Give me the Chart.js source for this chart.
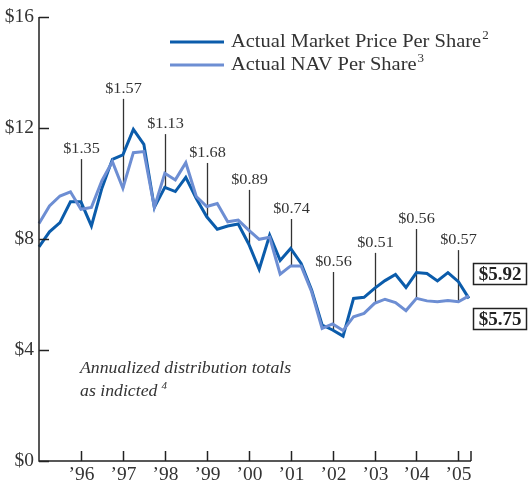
<!DOCTYPE html>
<html>
<head>
<meta charset="utf-8">
<script src="https://cdn.jsdelivr.net/npm/chart.js@4/dist/chart.umd.min.js"></script>
<style>
  html, body { margin: 0; padding: 0; background: #fff; }
  #wrap { width: 528px; height: 488px; }
</style>
</head>
<body>
<div id="wrap"><canvas id="chart" width="528" height="488"></canvas></div>
<script>
// --- DATA ---
// quarterly points, 1995 Q1 .. 2005 Q2
const quarters = [];
for (let i = 0; i < 42; i++) quarters.push(1995 + i * 0.25);

const marketPrice = [
  7.72, 8.26, 8.59, 9.34, 9.34, 8.47, 9.83, 10.87, 11.03, 11.95, 11.41, 9.14,
  9.86, 9.71, 10.22, 9.46, 8.80, 8.35, 8.47, 8.54, 7.82, 6.91, 8.14, 7.23,
  7.66, 7.12, 6.16, 4.90, 4.72, 4.50, 5.86, 5.90, 6.22, 6.50, 6.72, 6.25,
  6.79, 6.76, 6.49, 6.79, 6.46, 5.86
];
const navPrice = [
  8.56, 9.19, 9.55, 9.70, 9.07, 9.14, 10.10, 10.79, 9.83, 11.11, 11.15, 9.14,
  10.37, 10.13, 10.75, 9.53, 9.17, 9.28, 8.62, 8.68, 8.32, 7.99, 8.06, 6.73,
  7.03, 7.03, 6.10, 4.78, 4.94, 4.70, 5.20, 5.32, 5.68, 5.83, 5.71, 5.42,
  5.86, 5.77, 5.74, 5.78, 5.74, 5.95
];

const yearTicks = [1996, 1997, 1998, 1999, 2000, 2001, 2002, 2003, 2004, 2005];
const yearLabels = ['\u201996', '\u201997', '\u201998', '\u201999', '\u201900',
                    '\u201901', '\u201902', '\u201903', '\u201904', '\u201905'];
const yTicks = [0, 4, 8, 12, 16];
const yLabels = ['$0', '$4', '$8', '$12', '$16'];

// distribution annotations: label + top of the stick (in $)
const distLabels = ['$1.35', '$1.57', '$1.13', '$1.68', '$0.89', '$0.74', '$0.56', '$0.51', '$0.56', '$0.57'];
const distTops = [10.88, 13.05, 11.78, 10.74, 9.77, 8.72, 6.81, 7.50, 8.36, 7.60];

const seriesNames = ['Actual Market Price Per Share', 'Actual NAV Per Share'];
const seriesSup = ['2', '3'];
const endValues = ['$5.92', '$5.75'];

const DARK = '#0b5cab';
const LIGHT = '#6d8ed3';
const SERIF = '"Liberation Serif", "DejaVu Serif", serif';

// text drawn a little wider, the original face is a Century-like serif
function wideText(ctx, text, x, y, sx) {
  ctx.save();
  ctx.translate(x, y);
  ctx.scale(sx, 1);
  ctx.fillText(text, 0, 0);
  ctx.restore();
  return ctx.measureText(text).width * sx;
}

// --- DRAWING EXTRAS ---
const decorPlugin = {
  id: 'decor',
  beforeDatasetsDraw(chart) {
    const ctx = chart.ctx;
    const xs = chart.scales.x, ys = chart.scales.y;
    ctx.save();
    // distribution sticks + labels
    ctx.strokeStyle = '#333';
    ctx.lineWidth = 1.3;
    ctx.fillStyle = '#333';
    ctx.font = '15.5px ' + SERIF;
    ctx.textAlign = 'center';
    ctx.textBaseline = 'alphabetic';
    yearTicks.forEach((yr, i) => {
      const idx = quarters.indexOf(yr);
      const low = Math.min(marketPrice[idx], navPrice[idx]);
      const x = Math.round(xs.getPixelForValue(yr)) + 0.5;
      const top = ys.getPixelForValue(distTops[i]);
      ctx.beginPath();
      ctx.moveTo(x, top);
      ctx.lineTo(x, ys.getPixelForValue(low));
      ctx.stroke();
      wideText(ctx, distLabels[i], x, top - 6, 1.05);
    });
    ctx.restore();
  },
  afterDraw(chart) {
    const ctx = chart.ctx;
    const xs = chart.scales.x, ys = chart.scales.y;
    const area = chart.chartArea;
    ctx.save();
    ctx.strokeStyle = '#222';
    ctx.fillStyle = '#333';
    ctx.lineWidth = 1.5;

    // axes
    ctx.beginPath();
    ctx.moveTo(area.left, area.top);
    ctx.lineTo(area.left, area.bottom);
    ctx.lineTo(area.right, area.bottom);
    ctx.stroke();

    // y ticks + labels
    ctx.font = '18px ' + SERIF;
    ctx.textAlign = 'right';
    ctx.textBaseline = 'middle';
    yTicks.forEach((v, i) => {
      const y = Math.round(ys.getPixelForValue(v)) + 0.5;
      ctx.beginPath();
      ctx.moveTo(area.left, y);
      ctx.lineTo(area.left + 10, y);
      ctx.stroke();
      wideText(ctx, yLabels[i], area.left - 5, y, 1.08);
    });

    // x ticks + labels
    ctx.textAlign = 'center';
    ctx.textBaseline = 'top';
    yearTicks.forEach((yr, i) => {
      const x = Math.round(xs.getPixelForValue(yr)) + 0.5;
      ctx.beginPath();
      ctx.moveTo(x, area.bottom);
      ctx.lineTo(x, area.bottom - 10);
      ctx.stroke();
      wideText(ctx, yearLabels[i], x, area.bottom + 5, 1.08);
    });
    ctx.beginPath();
    ctx.moveTo(area.right, area.bottom);
    ctx.lineTo(area.right, area.bottom - 10);
    ctx.stroke();

    // legend
    const legendRows = [42, 65];
    [DARK, LIGHT].forEach((c, i) => {
      const y = legendRows[i];
      ctx.strokeStyle = c;
      ctx.lineWidth = 3;
      ctx.beginPath();
      ctx.moveTo(170, y);
      ctx.lineTo(224, y);
      ctx.stroke();
      ctx.fillStyle = '#333';
      ctx.font = '19.5px ' + SERIF;
      ctx.textAlign = 'left';
      ctx.textBaseline = 'middle';
      const w = wideText(ctx, seriesNames[i], 231, y, 1.05);
      ctx.font = '13px ' + SERIF;
      ctx.fillText(seriesSup[i], 232 + w, y - 6);
    });

    // note
    ctx.fillStyle = '#333';
    ctx.font = 'italic 16px ' + SERIF;
    ctx.textAlign = 'left';
    ctx.textBaseline = 'alphabetic';
    wideText(ctx, 'Annualized distribution totals', 80, 373, 1.11);
    const nw = wideText(ctx, 'as indicted', 80, 396, 1.11);
    ctx.font = 'italic 11px ' + SERIF;
    ctx.fillText('4', 84 + nw, 389);

    // end value boxes
    const boxes = [[473, 263], [473, 308]];
    ctx.font = 'bold 19px ' + SERIF;
    ctx.textAlign = 'center';
    ctx.textBaseline = 'middle';
    boxes.forEach((b, i) => {
      ctx.fillStyle = '#fff';
      ctx.fillRect(b[0], b[1], 54, 21);
      ctx.strokeStyle = '#222';
      ctx.lineWidth = 1.5;
      ctx.strokeRect(b[0] + 0.5, b[1] + 0.5, 53, 21);
      ctx.fillStyle = '#222';
      ctx.fillText(endValues[i], b[0] + 27, b[1] + 12);
    });
    ctx.restore();
  }
};

new Chart(document.getElementById('chart'), {
  type: 'line',
  data: {
    labels: quarters,
    datasets: [
      {
        label: seriesNames[1],
        data: quarters.map((q, i) => ({ x: q, y: navPrice[i] })),
        borderColor: LIGHT,
        borderWidth: 3,
        pointRadius: 0,
        tension: 0,
        clip: false
      },
      {
        label: seriesNames[0],
        data: quarters.map((q, i) => ({ x: q, y: marketPrice[i] })),
        borderColor: DARK,
        borderWidth: 3,
        pointRadius: 0,
        tension: 0,
        clip: false
      }
    ]
  },
  options: {
    responsive: false,
    animation: false,
    layout: { padding: { left: 39, right: 57, top: 17, bottom: 27 } },
    scales: {
      x: { type: 'linear', min: 1995, max: 2005.3, display: false },
      y: { min: 0, max: 16, display: false }
    },
    plugins: { legend: { display: false }, tooltip: { enabled: false } }
  },
  plugins: [decorPlugin]
});
</script>
</body>
</html>
